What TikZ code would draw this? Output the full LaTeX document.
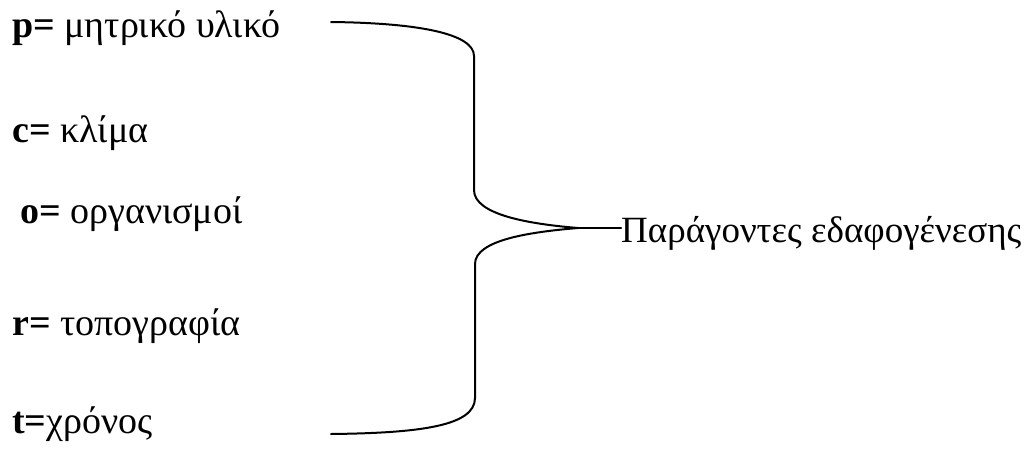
\documentclass[tikz,border=0pt]{standalone}
\usepackage{fontspec}
\setmainfont{Liberation Serif}
\tikzstyle{factor}=[anchor=base west, inner sep=0pt, font=\fontsize{38}{44}\selectfont]
\tikzstyle{result}=[factor, font=\fontsize{37}{43}\selectfont]
\tikzstyle{brace}=[line width=2pt, line cap=round]

\begin{document}
\begin{tikzpicture}[x=1pt,y=-1pt]
				\useasboundingbox (0,0) rectangle (1030,453);

				\node[factor] (p) at (12,37) {\textbf{p=} μητρικό υλικό};
				\node[factor] (c) at (12,142) {\textbf{c=} κλίμα};
				\node[factor] (o) at (20,223) {\textbf{o=} οργανισμοί};
				\node[factor] (r) at (12,335) {\textbf{r=} τοπογραφία};
				\node[factor] (t) at (12,433) {\textbf{t=}χρόνος};

				\coordinate (top) at (331,22);
				\coordinate (tip) at (578,228);
				\coordinate (bot) at (331,434);

				\node[result] (factors) at (621,242) {Παράγοντες εδαφογένεσης};

				\draw[brace] (top) .. controls (420,23) and (474,34) .. (474,56) -- (474,190)
					.. controls (474,215) and (530,224) .. (tip);
				\draw[brace] (tip) .. controls (530,232) and (475,240) .. (475,264) -- (475,398)
					.. controls (475,426) and (420,433) .. (bot);
				\draw[brace] (tip) -- (factors.west |- tip);
			\end{tikzpicture}
\end{document}
